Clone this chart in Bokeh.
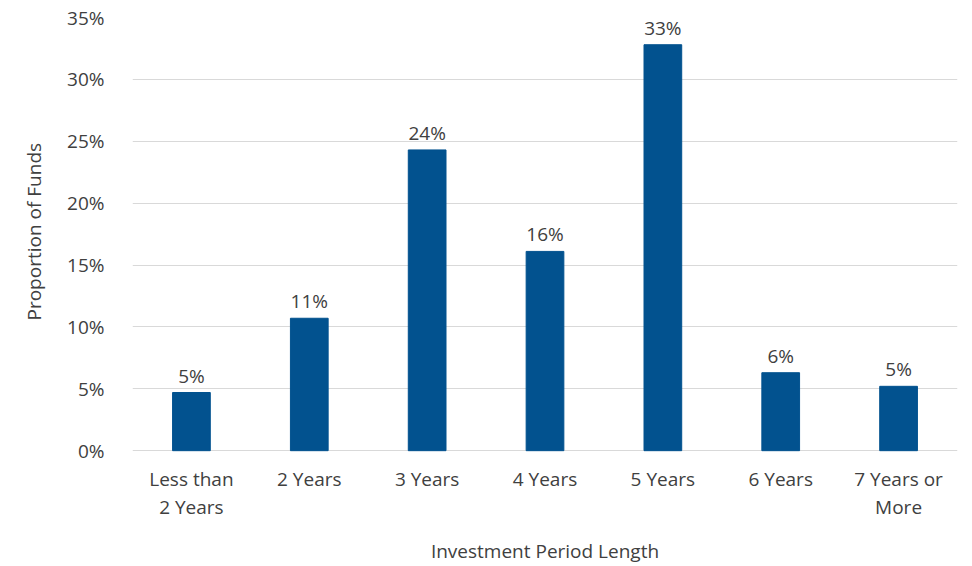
from bokeh.plotting import figure
from bokeh.models import ColumnDataSource, FactorRange, NumeralTickFormatter, FixedTicker, LabelSet, Title
from bokeh.core.properties import value
from bokeh.embed import file_html
from bokeh.resources import INLINE

categories = ["Less than 2 Years", "2 Years", "3 Years", "4 Years", "5 Years", "6 Years", "7 Years or More"]
tick_line1 = ["Less than", "2 Years", "3 Years", "4 Years", "5 Years", "6 Years", "7 Years or"]
tick_line2 = ["2 Years", "", "", "", "", "", "More"]
values = [0.047, 0.107, 0.243, 0.161, 0.328, 0.063, 0.052]
labels = ["5%", "11%", "24%", "16%", "33%", "6%", "5%"]
y_ticks = [0.0, 0.05, 0.10, 0.15, 0.20, 0.25, 0.30, 0.35]

FONT = "Open Sans"
TXT = "#404040"
BAR = "#02528F"

src = ColumnDataSource(dict(cat=categories, val=values, lab=labels))
tick_src = ColumnDataSource(dict(cat=categories, l1=tick_line1, l2=tick_line2,
                                 y=[0.0] * len(categories)))

p = figure(width=972, height=566, x_range=FactorRange(*categories, range_padding=0),
           y_range=(-0.0556, 0.35), output_backend="svg", toolbar_location=None,
           min_border_left=130, min_border_right=15, min_border_top=17, min_border_bottom=46)
p.outline_line_color = None
p.vbar(x="cat", top="val", width=0.32, source=src, color=BAR)

p.add_layout(LabelSet(x="cat", y="val", text="lab", source=src, text_align="center",
                      text_baseline="bottom", y_offset=4, text_font=value(FONT),
                      text_font_size="19px", text_color=TXT))

for col, off in (("l1", -28), ("l2", -56)):
    p.add_layout(LabelSet(x="cat", y="y", text=col, source=tick_src, text_align="center",
                          text_baseline="middle", y_offset=off, text_font=value(FONT),
                          text_font_size="19px", text_color=TXT))

p.yaxis.ticker = FixedTicker(ticks=y_ticks)
p.yaxis.formatter = NumeralTickFormatter(format="0%")
p.yaxis.axis_line_color = None
p.yaxis.major_tick_line_color = None
p.yaxis.minor_tick_line_color = None
p.yaxis.major_label_standoff = 22
p.yaxis.major_label_text_font = FONT
p.yaxis.major_label_text_font_size = "19px"
p.yaxis.major_label_text_color = TXT

ytitle = Title(text="Proportion of Funds", align="left", offset=199, standoff=36,
               text_font=FONT, text_font_size="19px", text_font_style="normal",
               text_color=TXT)
p.add_layout(ytitle, "left")

p.xaxis.major_label_overrides = {c: " " for c in categories}
p.xaxis.major_label_text_font_size = "1px"
p.xaxis.major_label_text_color = None
p.xaxis.axis_line_color = None
p.xaxis.major_tick_line_color = None
p.xaxis.major_label_standoff = 0
p.xaxis.axis_label = "Investment Period Length"
p.xaxis.axis_label_standoff = 12
p.xaxis.axis_label_text_font = FONT
p.xaxis.axis_label_text_font_size = "19px"
p.xaxis.axis_label_text_font_style = "normal"
p.xaxis.axis_label_text_color = TXT

p.xgrid.grid_line_color = None
p.ygrid.grid_line_color = "#d9d9d9"

open("out.html", "w").write(file_html(p, INLINE))
